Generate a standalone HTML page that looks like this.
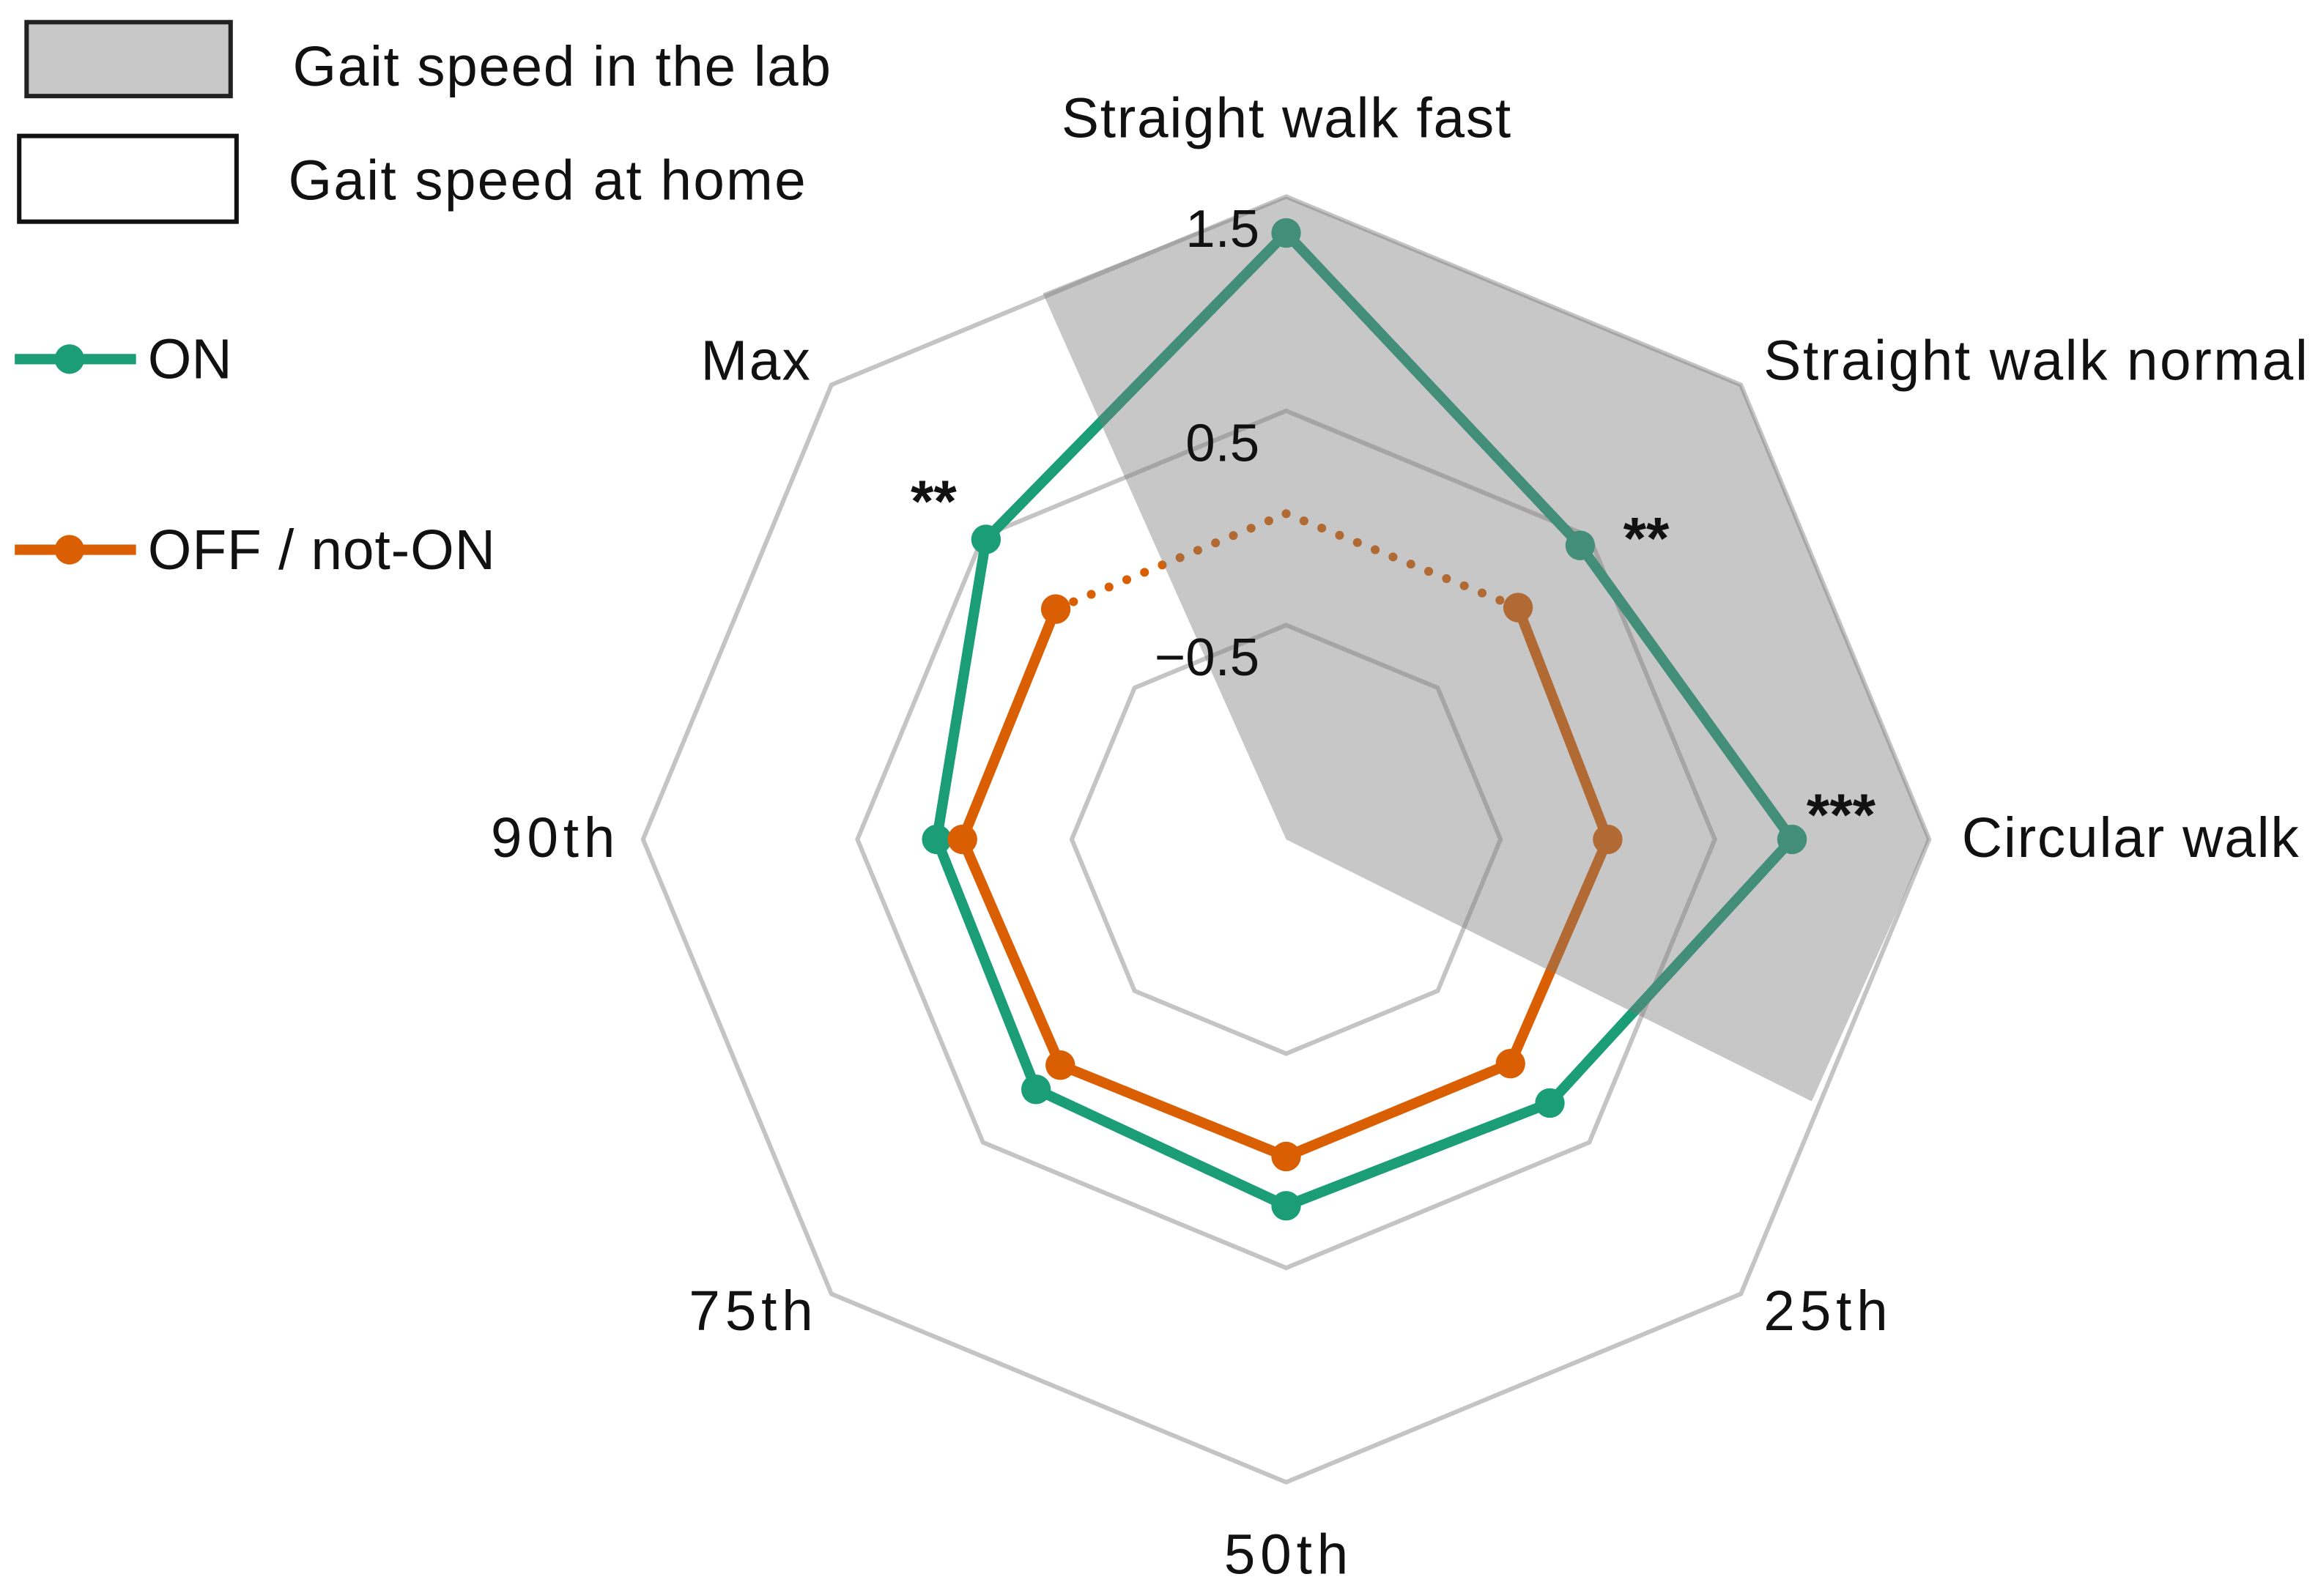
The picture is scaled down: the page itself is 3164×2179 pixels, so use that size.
<!DOCTYPE html>
<html><head><meta charset="utf-8"><style>
html,body{margin:0;padding:0;background:#fff;}
svg{display:block;}
text{font-family:"Liberation Sans",sans-serif;fill:#111;}
</style></head><body>
<svg id="chart" width="3164" height="2179" viewBox="0 0 1568 1080" preserveAspectRatio="none">
<g id="rings"></g>
<g id="series"></g>
<g id="labfill"></g>
<g id="labels"></g>
<g>
<rect x="18" y="15" width="138" height="50" fill="#c8c8c8" stroke="#222" stroke-width="3"/>
<text x="198" y="58" font-size="38" textLength="364">Gait speed in the lab</text>
<rect x="13" y="92" width="147" height="58" fill="#fff" stroke="#111" stroke-width="3"/>
<text x="195" y="135" font-size="38" textLength="350">Gait speed at home</text>
<line x1="10" y1="243" x2="92" y2="243" stroke="#1b9e77" stroke-width="7"/>
<circle cx="47" cy="243" r="10" fill="#1b9e77"/>
<text x="100" y="256" font-size="38">ON</text>
<line x1="10" y1="372" x2="92" y2="372" stroke="#d95f02" stroke-width="7"/>
<circle cx="47" cy="372" r="10" fill="#d95f02"/>
<text x="100" y="385" font-size="38" textLength="235">OFF / not-ON</text>
</g>
</svg>
<script>
const categories = ["Straight walk fast","Straight walk normal","Circular walk","25th","50th","75th","90th","Max"];
const onValues = [1.33,0.44,0.86,0.24,0.21,0.15,0.13,0.48];
const offValues = [0.02,0.03,0.0,-0.02,-0.02,-0.01,0.01,0.02];
const tickValues = [-0.5,0.5,1.5];
const tickLabels = ["\u22120.5","0.5","1.5"];
const labAngles = [-24,0,45,90,116.5,116.5];
const labValues = [1.29,1.5,1.5,1.5,1.24,-1.5];
const stars = ["", "**", "***", "", "", "", "", "**"];

const NS="http://www.w3.org/2000/svg";
const cx=870, cy=568, vmin=-1.5, vmax=1.5, R=435;
function rScale(v){return (v-vmin)/(vmax-vmin)*R;}
function pt(i,v){const a=i*Math.PI/4; const r=rScale(v); return [cx+r*Math.sin(a), cy-r*Math.cos(a)];}
function ptA(deg,v){const a=deg*Math.PI/180; const r=rScale(v); return [cx+r*Math.sin(a), cy-r*Math.cos(a)];}
function mk(tag,attrs,parent){const e=document.createElementNS(NS,tag);for(const k in attrs)e.setAttribute(k,attrs[k]);parent.appendChild(e);return e;}

const rings=document.getElementById('rings');
tickValues.forEach((t,j)=>{
  const pts=categories.map((c,i)=>pt(i,t).join(',')).join(' ');
  const p=mk('polygon',{points:pts,fill:'none',stroke:'#c4c4c4','stroke-width':3},rings);
  
  
});

const series=document.getElementById('series');
function drawSeries(vals,color,name,dottedSeg){
  const n=vals.length;
  for(let i=0;i<n;i++){
    const a=pt(i,vals[i]), b=pt((i+1)%n,vals[(i+1)%n]);
    const dotted=dottedSeg.includes(i);
    const l=mk('line',{x1:a[0],y1:a[1],x2:b[0],y2:b[1],stroke:color,'stroke-width':dotted?6:7,'stroke-linecap':'round'},series);
    if(dotted) l.setAttribute('stroke-dasharray','0 13');
    
    
  }
  vals.forEach((v,i)=>{
    if(dottedSeg.includes(i)&&dottedSeg.includes((i+n-1)%n)) return;
    const p=pt(i,v);
    const c=mk('circle',{cx:p[0],cy:p[1],r:10,fill:color},series);
    
    
  });
}
drawSeries(onValues,'#1b9e77','on',[]);
drawSeries(offValues,'#d95f02','off',[7,0]);

const lab=document.getElementById('labfill');
const lp=labAngles.map((a,i)=>ptA(a,labValues[i]));
const poly=mk('polygon',{points:lp.map(p=>p.join(',')).join(' '),fill:'#7a7a7a','fill-opacity':0.42},lab);



const labels=document.getElementById('labels');
const labelPos=[[870,93,'middle',304],[1193,257,'start',368],[1327,580,'start',228],[1193,900,'start',84],[870,1065,'middle',84],[550,900,'end',84],[416,580,'end',84],[548,257,'end',74]];
categories.forEach((c,i)=>{
  const t=mk('text',{x:labelPos[i][0],y:labelPos[i][1],'text-anchor':labelPos[i][2],'font-size':38,textLength:labelPos[i][3]},labels);
  t.textContent=c;
  
  
});
tickValues.forEach((t,j)=>{
  const y=cy-rScale(t)+34;
  const e=mk('text',{x:852,y:y,'text-anchor':'end','font-size':36},labels);
  e.textContent=tickLabels[j];
  
  
});
const starPos=[null,[1098,378],[1222,565],null,null,null,null,[616,353]];
stars.forEach((s,i)=>{
  if(!s) return;
  const e=mk('text',{x:starPos[i][0],y:starPos[i][1],'font-size':40,'font-weight':'bold'},labels);
  e.textContent=s;
  
  
});
</script>
</body></html>
